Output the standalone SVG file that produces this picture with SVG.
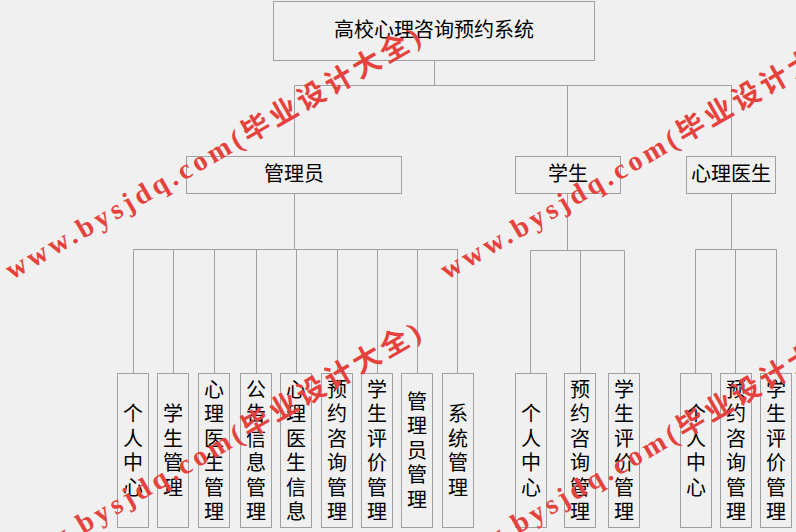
<svg xmlns="http://www.w3.org/2000/svg" width="796" height="532" viewBox="0 0 796 532">
<style>
.bg{fill:#f0f0f0}
.box{fill:#f0f0f0;stroke:#a0a0a0;stroke-width:1}
.ln{fill:none;stroke:#a0a0a0;stroke-width:1}
.lbl{font-family:"Noto Sans CJK SC","Noto Sans",sans-serif;font-size:20px;fill:#000;text-anchor:middle}
.vt{font-family:"Noto Sans CJK SC","Noto Sans",sans-serif;font-size:20px;fill:#000;text-anchor:middle;writing-mode:vertical-rl;letter-spacing:4.5px}
.wm{font-family:"Liberation Serif","Noto Sans CJK SC",serif;font-size:28px;font-weight:bold;fill:#e5423d;letter-spacing:4px}
</style>
<rect class="bg" x="0" y="0" width="796" height="532"/>
<g id="connectors">
<path class="ln" d="M434.5 60.5V85.5M294.5 85.5H731.5M294.5 85.5V156.5M567.5 85.5V156.5M731.5 85.5V156.5"/>
<path class="ln" d="M294.5 193.5V249.5M133.5 249.5H457.5M133.5 249.5V373.5M173.5 249.5V373.5M214.5 249.5V373.5M256.5 249.5V373.5M296.5 249.5V373.5M337.5 249.5V373.5M377.5 249.5V373.5M417.5 249.5V373.5M457.5 249.5V373.5"/>
<path class="ln" d="M567.5 193.5V250.5M530.5 250.5H624.5M530.5 250.5V373.5M580.5 250.5V373.5M624.5 250.5V373.5"/>
<path class="ln" d="M731.5 193.5V249.5M695.5 249.5H776.5M695.5 249.5V373.5M735.5 249.5V373.5M776.5 249.5V373.5"/>
</g>
<g id="root"><rect class="box" x="273.5" y="1.5" width="321" height="59"/><text class="lbl" x="434" y="37">高校心理咨询预约系统</text></g>
<g id="admin"><rect class="box" x="186.5" y="156.5" width="215" height="37"/><text class="lbl" x="294" y="181">管理员</text></g>
<g id="student"><rect class="box" x="515.5" y="156.5" width="105" height="37"/><text class="lbl" x="568" y="181">学生</text></g>
<g id="doctor"><rect class="box" x="686.5" y="156.5" width="89" height="37"/><text class="lbl" x="731" y="181">心理医生</text></g>

<g id="a1"><rect class="box" x="117.5" y="373.5" width="31" height="154"/><text class="vt" x="133" y="452.5">个人中心</text></g>
<g id="a2"><rect class="box" x="157.5" y="373.5" width="31" height="154"/><text class="vt" x="173" y="452.5">学生管理</text></g>
<g id="a3"><rect class="box" x="198.5" y="373.5" width="31" height="154"/><text class="vt" x="214" y="452.5">心理医生管理</text></g>
<g id="a4"><rect class="box" x="240.5" y="373.5" width="31" height="154"/><text class="vt" x="256" y="452.5">公告信息管理</text></g>
<g id="a5"><rect class="box" x="280.5" y="373.5" width="31" height="154"/><text class="vt" x="296" y="452.5">心理医生信息</text></g>
<g id="a6"><rect class="box" x="321.5" y="373.5" width="31" height="154"/><text class="vt" x="337" y="452.5">预约咨询管理</text></g>
<g id="a7"><rect class="box" x="361.5" y="373.5" width="31" height="154"/><text class="vt" x="377" y="452.5">学生评价管理</text></g>
<g id="a8"><rect class="box" x="401.5" y="373.5" width="31" height="154"/><text class="vt" x="417" y="452.5">管理员管理</text></g>
<g id="a9"><rect class="box" x="442.5" y="373.5" width="31" height="154"/><text class="vt" x="458" y="452.5">系统管理</text></g>

<g id="s1"><rect class="box" x="515.5" y="373.5" width="31" height="154"/><text class="vt" x="531" y="452.5">个人中心</text></g>
<g id="s2"><rect class="box" x="564.5" y="373.5" width="31" height="154"/><text class="vt" x="580" y="452.5">预约咨询管理</text></g>
<g id="s3"><rect class="box" x="608.5" y="373.5" width="31" height="154"/><text class="vt" x="624" y="452.5">学生评价管理</text></g>

<g id="d1"><rect class="box" x="680.5" y="373.5" width="31" height="154"/><text class="vt" x="696" y="452.5">个人中心</text></g>
<g id="d2"><rect class="box" x="720.5" y="373.5" width="31" height="154"/><text class="vt" x="736" y="452.5">预约咨询管理</text></g>
<g id="d3"><rect class="box" x="760.5" y="373.5" width="31" height="154"/><text class="vt" x="776" y="452.5">学生评价管理</text></g>

<g id="watermark">
<text class="wm" transform="translate(12,280) rotate(-30)">www.bysjdq.com(毕业设计大全)</text>
<text class="wm" transform="translate(447,280) rotate(-30)">www.bysjdq.com(毕业设计大全)</text>
<text class="wm" transform="translate(12,575) rotate(-30)">www.bysjdq.com(毕业设计大全)</text>
<text class="wm" transform="translate(447,575) rotate(-30)">www.bysjdq.com(毕业设计大全)</text>
</g>
</svg>
